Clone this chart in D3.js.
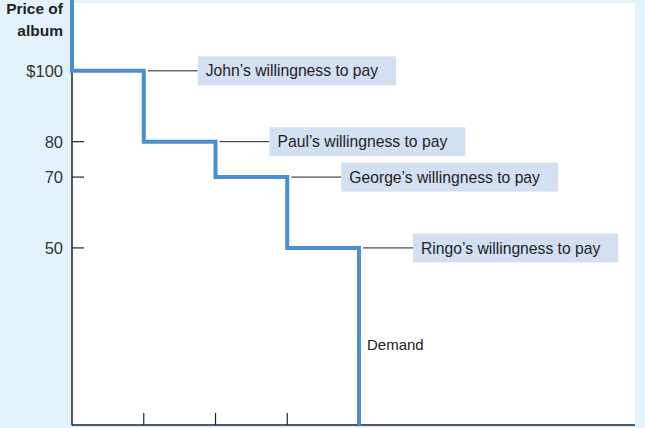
<!DOCTYPE html>
<html><head><meta charset="utf-8">
<script src="https://cdn.jsdelivr.net/npm/d3@7"></script>
<style>body{margin:0;background:#e4f3fb;}svg{display:block;}</style>
</head><body><svg id="c" width="645" height="428"></svg>
<script>
const buyers = ["John", "Paul", "George", "Ringo"];
const willingness = [100, 80, 70, 50];
const quantityTicks = [1, 2, 3, 4];
const priceTicks = [100, 80, 70, 50];
const priceTickLabels = ["$100", "80", "70", "50"];
const yAxisTitle = ["Price of", "album"];
const curveLabel = "Demand";

(function () {
const svg = d3.select("#c");
const W = 645, H = 428;
const pL = 72, pR = 635, pT = 3, pB = 425;
const x = d3.scaleLinear().domain([0, 4]).range([pL, 359]);
const y = d3.scaleLinear().domain([0, 120]).range([pB, 0]);
const font = "'Liberation Sans', Arial, sans-serif";

svg.append("rect").attr("width", W).attr("height", H).attr("fill", "#e4f3fb");
svg.append("rect").attr("x", pL).attr("y", pT).attr("width", pR - pL).attr("height", pB - pT).attr("fill", "#ffffff");

// Axes
svg.append("line").attr("x1", pL).attr("x2", pL).attr("y1", 0).attr("y2", pB + 0.5)
  .attr("stroke", "#222").attr("stroke-width", 1.5);
svg.append("line").attr("x1", pL).attr("x2", pR).attr("y1", pB).attr("y2", pB)
  .attr("stroke", "#222").attr("stroke-width", 1.5);

// y ticks
priceTicks.forEach((p, i) => {
  svg.append("line").attr("x1", pL).attr("x2", pL + 12).attr("y1", y(p)).attr("y2", y(p))
    .attr("stroke", "#222").attr("stroke-width", 1.2);
  svg.append("text").attr("x", 63).attr("y", y(p)).attr("dy", "0.36em")
    .attr("text-anchor", "end").attr("font-family", font).attr("font-size", 16.5)
    .attr("fill", "#333").text(priceTickLabels[i]);
});
// x ticks
quantityTicks.forEach(q => {
  svg.append("line").attr("x1", x(q)).attr("x2", x(q)).attr("y1", pB).attr("y2", pB - 12)
    .attr("stroke", "#222").attr("stroke-width", 1.2);
});

// axis title
yAxisTitle.forEach((t, i) => {
  svg.append("text").attr("x", 63).attr("y", 14 + i * 22).attr("text-anchor", "end")
    .attr("font-family", font).attr("font-size", 15.5).attr("font-weight", "bold")
    .attr("fill", "#222").text(t);
});

// Demand step curve
const pts = [[0, 120]];
willingness.forEach((p, i) => { pts.push([i, p]); pts.push([i + 1, p]); });
pts.push([willingness.length, 0]);
svg.append("path").datum(pts)
  .attr("d", d3.line().x(d => x(d[0])).y(d => y(d[1])))
  .attr("fill", "none").attr("stroke", "#4a8fd0").attr("stroke-width", 4);

// labels
buyers.forEach((b, i) => {
  const p = willingness[i];
  const bx = x(i + 1) + 54;
  svg.append("line").attr("x1", x(i + 1) + 4).attr("x2", bx).attr("y1", y(p)).attr("y2", y(p))
    .attr("stroke", "#222").attr("stroke-width", 1);
  const g = svg.append("g");
  const r = g.append("rect").attr("x", bx).attr("y", y(p) - 14.5).attr("height", 29).attr("fill", "#d3e0f2");
  const t = g.append("text").attr("x", bx + 8).attr("y", y(p)).attr("dy", "0.36em")
    .attr("font-family", font).attr("font-size", 15.7).attr("fill", "#222")
    .text(b + "\u2019s willingness to pay");
  r.attr("width", t.node().getComputedTextLength() + 26);
});

svg.append("text").attr("x", x(4) + 8).attr("y", 345).attr("dy", "0.36em")
  .attr("font-family", font).attr("font-size", 15).attr("fill", "#222").text(curveLabel);
})();
</script></body></html>
